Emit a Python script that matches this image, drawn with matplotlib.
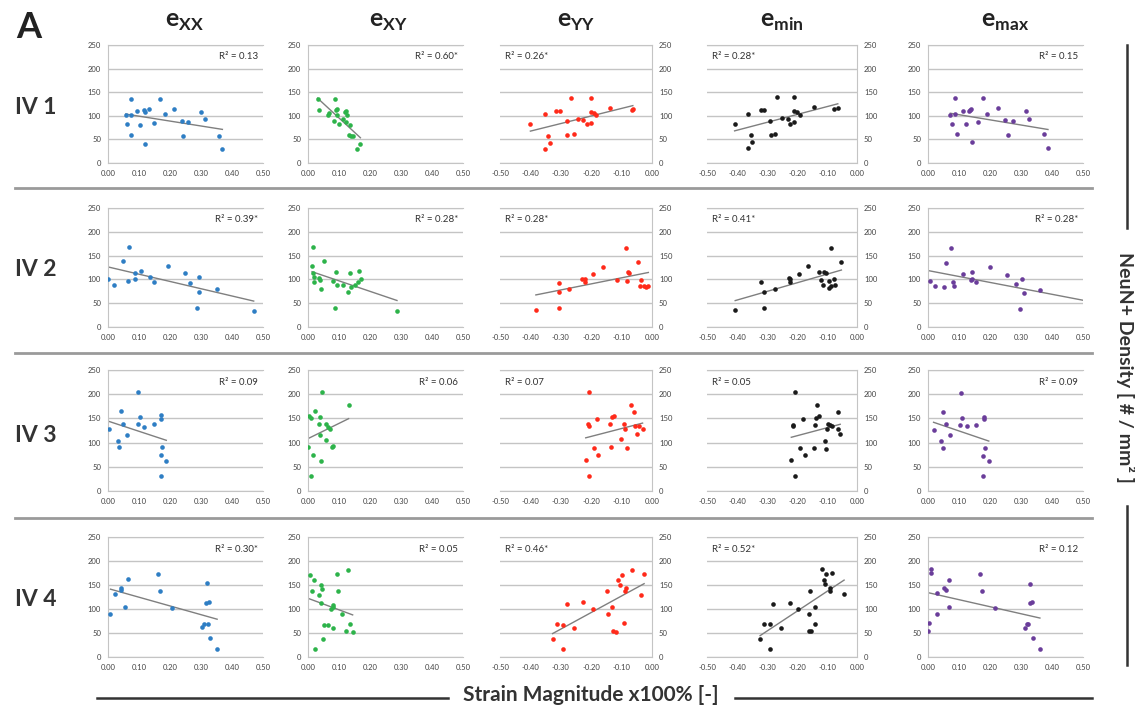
import matplotlib.pyplot as plt
import numpy as np
from matplotlib.lines import Line2D
from matplotlib.ticker import FuncFormatter

plt.rcParams['font.family'] = ['Lato', 'DejaVu Sans']
plt.rcParams['mathtext.fontset'] = 'custom'
plt.rcParams['mathtext.bf'] = 'Lato:bold'
plt.rcParams['mathtext.rm'] = 'Lato'

columns = ["XX", "XY", "YY", "min", "max"]
rows = ["IV 1", "IV 2", "IV 3", "IV 4"]
colors = ["#2e7ec4", "#2db34a", "#ff2a1a", "#1a1a1a", "#6a3d9a"]

r2_labels = [
    ["R² = 0.13", "R² = 0.60*", "R² = 0.26*", "R² = 0.28*", "R² = 0.15"],
    ["R² = 0.39*", "R² = 0.28*", "R² = 0.28*", "R² = 0.41*", "R² = 0.28*"],
    ["R² = 0.09", "R² = 0.06", "R² = 0.07", "R² = 0.05", "R² = 0.09"],
    ["R² = 0.30*", "R² = 0.05", "R² = 0.46*", "R² = 0.52*", "R² = 0.12"],
]

# ---- IV 1 ----
iv1_exx_x = [0.057, 0.062, 0.073, 0.073, 0.073, 0.095, 0.104, 0.115, 0.120, 0.120, 0.131,
             0.147, 0.169, 0.184, 0.213, 0.238, 0.243, 0.257, 0.299, 0.313, 0.358, 0.369]
iv1_exx_y = [102, 82, 136, 102, 60, 111, 81, 113, 109, 41, 114, 84, 136, 104, 115, 89, 58, 87,
             109, 94, 58, 30]
iv1_exy_x = [0.031, 0.035, 0.064, 0.069, 0.085, 0.088, 0.090, 0.095, 0.093, 0.100, 0.113,
             0.119, 0.124, 0.126, 0.121, 0.136, 0.131, 0.138, 0.145, 0.159, 0.169]
iv1_exy_y = [136, 113, 102, 106, 90, 136, 113, 115, 101, 82, 94, 109, 111, 102, 86, 81, 60, 58,
             58, 30, 41]
iv1_eyy_x = [-0.400, -0.352, -0.352, -0.343, -0.334, -0.315, -0.302, -0.281, -0.279, -0.267,
             -0.256, -0.243, -0.227, -0.215, -0.201, -0.201, -0.201, -0.192, -0.185, -0.137,
             -0.067, -0.063]
iv1_eyy_y = [82, 103, 30, 58, 43, 110, 110, 88, 60, 137, 61, 94, 91, 82, 137, 109, 85, 105, 102,
             116, 112, 114]
iv1_emin_x = [-0.408, -0.363, -0.363, -0.354, -0.351, -0.321, -0.310, -0.290, -0.288, -0.272,
              -0.268, -0.250, -0.229, -0.224, -0.209, -0.209, -0.209, -0.200, -0.190, -0.144,
              -0.078, -0.064]
iv1_emin_y = [83, 104, 32, 60, 44, 112, 112, 88, 60, 62, 139, 95, 94, 83, 139, 111, 86, 107, 102,
              118, 115, 116]
iv1_emax_x = [0.072, 0.078, 0.087, 0.087, 0.094, 0.112, 0.123, 0.132, 0.138, 0.143, 0.160,
              0.176, 0.191, 0.227, 0.248, 0.259, 0.273, 0.315, 0.327, 0.375, 0.387, 0.135]
iv1_emax_y = [102, 82, 137, 103, 62, 111, 82, 111, 115, 44, 86, 137, 104, 116, 91, 59, 88, 111,
              94, 61, 31, 113]

# ---- IV 2 ----
iv2_exx_x = [0.000, 0.018, 0.048, 0.068, 0.065, 0.087, 0.087, 0.105, 0.135, 0.148, 0.192,
             0.249, 0.266, 0.294, 0.294, 0.287, 0.350, 0.470]
iv2_exx_y = [100, 89, 139, 169, 97, 113, 100, 118, 104, 95, 128, 113, 93, 104, 74, 39, 80, 34]
iv2_exy_x = [0.013, 0.017, 0.015, 0.020, 0.020, 0.034, 0.039, 0.042, 0.050, 0.080, 0.090,
             0.093, 0.088, 0.114, 0.128, 0.136, 0.139, 0.153, 0.161, 0.164, 0.171, 0.287]
iv2_exy_y = [128, 169, 113, 104, 95, 102, 99, 80, 139, 96, 116, 88, 39, 89, 74, 113, 85, 89, 95,
             118, 100, 34]
iv2_eyy_x = [-0.382, -0.307, -0.307, -0.307, -0.273, -0.229, -0.222, -0.222, -0.193, -0.160,
             -0.115, -0.087, -0.079, -0.077, -0.081, -0.046, -0.035, -0.041, -0.027, -0.019,
             -0.012]
iv2_eyy_y = [35, 92, 74, 40, 80, 101, 101, 95, 111, 127, 98, 167, 116, 113, 97, 137, 99, 87, 87,
             83, 87]
iv2_emin_x = [-0.406, -0.319, -0.310, -0.310, -0.274, -0.228, -0.222, -0.222, -0.194, -0.163,
              -0.128, -0.119, -0.109, -0.102, -0.113, -0.094, -0.087, -0.087, -0.078, -0.072,
              -0.094, -0.052]
iv2_emin_y = [35, 95, 74, 40, 80, 102, 101, 95, 112, 128, 116, 99, 116, 113, 89, 96, 167, 87, 101,
              89, 82, 137]
iv2_emax_x = [0.005, 0.022, 0.051, 0.059, 0.074, 0.080, 0.083, 0.114, 0.138, 0.141, 0.143,
              0.154, 0.199, 0.254, 0.285, 0.303, 0.309, 0.298, 0.361, 0.550]
iv2_emax_y = [97, 87, 83, 135, 167, 95, 87, 111, 98, 115, 101, 94, 127, 110, 91, 101, 72, 37, 78,
              34]

# ---- IV 3 ----
iv3_exx_x = [0.003, 0.032, 0.034, 0.041, 0.048, 0.061, 0.097, 0.097, 0.102, 0.115, 0.147,
             0.172, 0.172, 0.174, 0.172, 0.188, 0.172]
iv3_exx_y = [128, 104, 90, 165, 139, 116, 205, 138, 152, 133, 138, 156, 149, 90, 74, 62, 31]
iv3_exy_x = [0.000, 0.004, 0.010, 0.015, 0.010, 0.024, 0.037, 0.040, 0.040, 0.042, 0.045,
             0.058, 0.059, 0.066, 0.072, 0.077, 0.080, 0.131]
iv3_exy_y = [90, 154, 151, 74, 31, 165, 138, 152, 116, 62, 205, 106, 138, 133, 128, 90, 92, 178]
iv3_eyy_x = [-0.218, -0.208, -0.209, -0.208, -0.208, -0.192, -0.181, -0.176, -0.137, -0.134,
             -0.132, -0.126, -0.101, -0.093, -0.088, -0.082, -0.068, -0.060, -0.057, -0.049,
             -0.042, -0.031]
iv3_eyy_y = [64, 205, 138, 135, 31, 89, 149, 74, 139, 90, 153, 155, 107, 139, 128, 88, 178, 164,
             135, 117, 135, 129]
iv3_emin_x = [-0.219, -0.208, -0.212, -0.212, -0.208, -0.191, -0.180, -0.174, -0.144, -0.139,
              -0.133, -0.136, -0.128, -0.108, -0.102, -0.100, -0.097, -0.089, -0.083, -0.064,
              -0.063, -0.056]
iv3_emin_y = [64, 205, 137, 135, 31, 89, 149, 74, 89, 137, 178, 151, 155, 104, 87, 128, 139, 137,
              135, 164, 129, 117]
iv3_emax_x = [0.018, 0.041, 0.047, 0.047, 0.057, 0.070, 0.105, 0.103, 0.111, 0.126, 0.156,
              0.181, 0.181, 0.183, 0.178, 0.196, 0.178]
iv3_emax_y = [126, 104, 89, 163, 139, 115, 203, 136, 150, 134, 136, 153, 148, 88, 73, 61, 31]

# ---- IV 4 ----
iv4_exx_x = [0.008, 0.022, 0.043, 0.043, 0.054, 0.065, 0.161, 0.169, 0.206, 0.302, 0.310,
             0.319, 0.317, 0.322, 0.326, 0.328, 0.352]
iv4_exx_y = [89, 131, 143, 140, 105, 162, 172, 137, 103, 62, 68, 154, 112, 68, 115, 40, 17]
iv4_exy_x = [0.005, 0.013, 0.019, 0.021, 0.037, 0.043, 0.045, 0.043, 0.048, 0.050, 0.064,
             0.074, 0.080, 0.082, 0.082, 0.093, 0.098, 0.109, 0.124, 0.128, 0.136, 0.144]
iv4_exy_y = [171, 137, 160, 16, 130, 151, 142, 113, 38, 66, 67, 101, 108, 105, 61, 173, 137, 89,
             54, 182, 68, 52]
iv4_eyy_x = [-0.327, -0.313, -0.294, -0.293, -0.281, -0.256, -0.227, -0.194, -0.147, -0.144,
             -0.130, -0.127, -0.119, -0.111, -0.106, -0.100, -0.091, -0.089, -0.086, -0.067,
             -0.036, -0.026]
iv4_eyy_y = [38, 68, 66, 16, 110, 61, 114, 101, 137, 89, 104, 54, 53, 160, 151, 171, 70, 137, 143,
             182, 130, 172]
iv4_emin_x = [-0.323, -0.309, -0.290, -0.290, -0.281, -0.252, -0.224, -0.196, -0.158, -0.160,
              -0.160, -0.155, -0.140, -0.140, -0.117, -0.111, -0.107, -0.102, -0.091, -0.091,
              -0.082, -0.043]
iv4_emin_y = [38, 68, 68, 16, 111, 61, 113, 101, 137, 89, 54, 54, 105, 68, 183, 160, 152, 172,
              144, 137, 174, 131]
iv4_emax_x = [0.000, 0.004, 0.009, 0.011, 0.028, 0.028, 0.052, 0.059, 0.067, 0.068, 0.168,
              0.174, 0.217, 0.313, 0.318, 0.324, 0.329, 0.329, 0.337, 0.338, 0.361]
iv4_emax_y = [54, 70, 174, 183, 133, 90, 143, 139, 105, 161, 173, 137, 102, 61, 68, 68, 153, 112,
              115, 40, 17]

panels = [
    [(iv1_exx_x, iv1_exx_y), (iv1_exy_x, iv1_exy_y), (iv1_eyy_x, iv1_eyy_y),
     (iv1_emin_x, iv1_emin_y), (iv1_emax_x, iv1_emax_y)],
    [(iv2_exx_x, iv2_exx_y), (iv2_exy_x, iv2_exy_y), (iv2_eyy_x, iv2_eyy_y),
     (iv2_emin_x, iv2_emin_y), (iv2_emax_x, iv2_emax_y)],
    [(iv3_exx_x, iv3_exx_y), (iv3_exy_x, iv3_exy_y), (iv3_eyy_x, iv3_eyy_y),
     (iv3_emin_x, iv3_emin_y), (iv3_emax_x, iv3_emax_y)],
    [(iv4_exx_x, iv4_exx_y), (iv4_exy_x, iv4_exy_y), (iv4_eyy_x, iv4_eyy_y),
     (iv4_emin_x, iv4_emin_y), (iv4_emax_x, iv4_emax_y)],
]

W, H = 1135, 711
fig = plt.figure(figsize=(W / 100, H / 100), dpi=100)

col_px = [(108, 263), (308, 463), (500, 652), (707, 857), (928, 1083)]
row_px = [(45, 163), (208, 327), (370, 491), (537, 657)]
grid_c = "#c4c4c4"

xfmt = FuncFormatter(lambda v, p: "0.00" if abs(v) < 1e-9 else f"{v:.2f}")

for i in range(4):
    for j in range(5):
        x0, x1 = col_px[j]
        y0, y1 = row_px[i]
        ax = fig.add_axes([x0 / W, 1 - y1 / H, (x1 - x0) / W, (y1 - y0) / H])
        xs, ys = np.array(panels[i][j][0]), np.array(panels[i][j][1])
        neg = j in (2, 3)
        ax.scatter(xs, ys, s=11, color=colors[j], zorder=3, linewidths=0)
        # linear trend line, drawn over the range of the data (Excel style)
        k, b = np.polyfit(xs, ys, 1)
        xl = np.array([xs.min(), xs.max()])
        ax.plot(xl, k * xl + b, color="#7f7f7f", lw=1, zorder=2)
        if neg:
            ax.set_xlim(-0.5, 0)
            ax.set_xticks(np.arange(-0.5, 0.01, 0.1))
            ax.yaxis.tick_right()
            ax.spines['left'].set_visible(False)
            ax.spines['right'].set_color(grid_c)
        else:
            ax.set_xlim(0, 0.5)
            ax.set_xticks(np.arange(0, 0.51, 0.1))
            ax.spines['right'].set_visible(False)
            ax.spines['left'].set_color(grid_c)
        ax.set_ylim(0, 250)
        ax.set_yticks(range(0, 251, 50))
        ax.xaxis.set_major_formatter(xfmt)
        ax.grid(axis='y', color=grid_c, lw=1)
        ax.set_axisbelow(True)
        ax.spines['top'].set_color(grid_c)
        ax.spines['bottom'].set_color(grid_c)
        ax.tick_params(length=0, labelsize=5.5, colors="#444444", pad=5)
        if neg:
            ax.text(0.03, 0.9, r2_labels[i][j], transform=ax.transAxes, fontsize=7,
                    color="#333333", ha='left', va='center')
        else:
            ax.text(0.97, 0.9, r2_labels[i][j], transform=ax.transAxes, fontsize=7,
                    color="#333333", ha='right', va='center')

# column titles
col_cx = [185, 388, 576, 782, 1005]
for j, c in enumerate(columns):
    fig.text(col_cx[j] / W, 1 - 22 / H, r'$\mathbf{e}_{\mathbf{%s}}$' % c, fontsize=18,
             ha='center', va='center', color="#222222")

# row labels
row_cy = [108, 270, 435, 600]
for i, r in enumerate(rows):
    fig.text(36 / W, 1 - row_cy[i] / H, r, fontsize=16.5, fontweight='bold', ha='center',
             va='center', color="#333333")

fig.text(29 / W, 1 - 27 / H, "A", fontsize=26, fontweight='bold', ha='center', va='center',
         color="#222222")

# separators between rows
for yy in [188, 353, 518]:
    fig.add_artist(Line2D([15 / W, 1092 / W], [1 - yy / H, 1 - yy / H], color="#9a9a9a", lw=2))

# right label
fig.text(1125 / W, 1 - 367 / H, "NeuN+ Density [ # / mm² ]", rotation=-90, fontsize=14,
         fontweight='bold', ha='center', va='center', color="#333333")
fig.add_artist(Line2D([1127 / W, 1127 / W], [1 - 45 / H, 1 - 228 / H], color="#333333", lw=1.8))
fig.add_artist(Line2D([1127 / W, 1127 / W], [1 - 506 / H, 1 - 665 / H], color="#333333", lw=1.8))

# bottom label
fig.text(591 / W, 1 - 695 / H, "Strain Magnitude x100% [-]", fontsize=15, fontweight='bold',
         ha='center', va='center', color="#333333")
fig.add_artist(Line2D([97 / W, 448 / W], [1 - 698 / H, 1 - 698 / H], color="#333333", lw=1.8))
fig.add_artist(Line2D([735 / W, 1092 / W], [1 - 698 / H, 1 - 698 / H], color="#333333", lw=1.8))

fig.savefig("out.png", dpi=100)
